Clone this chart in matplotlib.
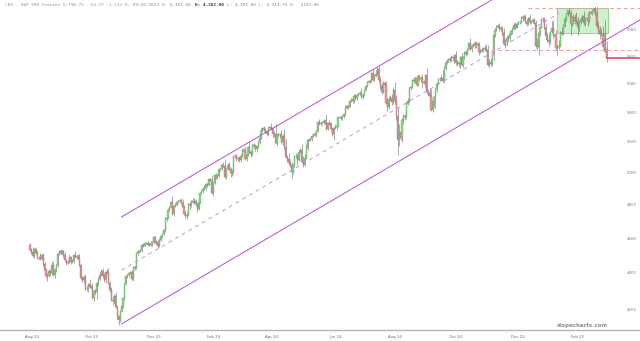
import matplotlib
matplotlib.use("Agg")
import matplotlib.pyplot as plt
from matplotlib.patches import Rectangle

# ---------------- data (daily /ES bars, Aug 2 2023 - Mar 4 2025) ----------------
closes = [
    4534, 4522, 4498, 4538, 4518, 4487, 4486, 4482, 4506, 4454, 4420, 4386, 4384, 4414, 4401, 4450, 4389, 4418, 4445, 4509, 4525, 4518,
    4525, 4505, 4473, 4458, 4464, 4492, 4465, 4470, 4507, 4495, 4497, 4487, 4445, 4373, 4362, 4379, 4315, 4314, 4339, 4327,
    4326, 4267, 4300, 4295, 4344, 4371, 4393, 4411, 4383, 4361, 4406, 4405, 4346, 4310, 4255, 4247, 4277, 4215, 4166, 4145, 4194, 4221,
    4263, 4343, 4383, 4390, 4402, 4406, 4370, 4438, 4433, 4516, 4522, 4528, 4533, 4565, 4556, 4573, 4575, 4565, 4568, 4564, 4580,
    4607, 4580, 4577, 4558, 4593, 4612, 4629, 4649, 4713, 4724, 4769, 4789, 4817, 4746, 4794, 4801, 4820, 4827, 4828, 4815,
    4787, 4748, 4732, 4740, 4806, 4798, 4824, 4820, 4824, 4804, 4777, 4817, 4877, 4886, 4899, 4903, 4928, 4925, 4960, 4957, 4877,
    4936, 4989, 4972, 4982, 5023, 5025, 5054, 5048, 4978, 5026, 5053, 5029, 4998, 5003, 5107, 5109, 5088, 5095, 5086, 5112,
    5151, 5144, 5091, 5116, 5167, 5134, 5125, 5182, 5172, 5156, 5172, 5203, 5231, 5277, 5293, 5285, 5268, 5253, 5297, 5303,
    5291, 5252, 5258, 5193, 5250, 5247, 5253, 5204, 5242, 5166, 5103, 5092, 5063, 5051, 5007, 5049, 5108, 5109, 5085, 5137, 5151, 5071,
    5052, 5098, 5161, 5213, 5218, 5219, 5244, 5253, 5249, 5275, 5335, 5324, 5329, 5333, 5345, 5331, 5291, 5328, 5327, 5287, 5255, 5296,
    5301, 5308, 5370, 5368, 5362, 5375, 5388, 5433, 5444, 5442, 5482, 5495, 5478, 5519, 5501, 5522, 5530, 5534, 5511,
    5525, 5559, 5586, 5615, 5619, 5624, 5679, 5630, 5660, 5675, 5710, 5631, 5586, 5547, 5605, 5595, 5467, 5438, 5498, 5500, 5473, 5558,
    5480, 5380, 5218, 5271, 5230, 5349, 5374, 5372, 5462, 5482, 5569, 5580, 5632, 5620, 5643, 5593, 5657, 5636, 5645, 5611, 5610, 5666,
    5543, 5534, 5517, 5421, 5482, 5506, 5563, 5604, 5634, 5639, 5640, 5622, 5717, 5755, 5769, 5782, 5771, 5794, 5786, 5809,
    5756, 5755, 5745, 5796, 5740, 5794, 5835, 5822, 5857, 5899, 5855, 5882, 5880, 5903, 5890, 5887, 5833, 5844, 5843, 5856, 5865, 5845, 5737,
    5760, 5742, 5812, 5958, 6002, 6024, 6028, 6011, 6010, 5975, 5895, 5917, 5940, 5939, 5971, 5991, 6007, 6040, 6018, 6049,
    6062, 6064, 6099, 6088, 6102, 6062, 6043, 6094, 6059, 6058, 6079, 6054, 5876, 5870, 5979, 6021, 6086, 6082, 6016, 5951, 5926,
    5912, 5985, 6017, 5950, 5958, 5866, 5873, 5880, 5986, 5972, 6032, 6082, 6119, 6151, 6133, 6042, 6096, 6068, 6099, 6067,
    6020, 6062, 6086, 6107, 6050, 6088, 6090, 6072, 6136, 6134, 6149, 6164, 6136, 6032, 6000, 5972, 5971, 5877, 5970,
    5855.5, 5790.75,
]
first_open = 4560
wick_up = [
    14, 8, 30, 6, 12, 15, 9, 28, 7, 10, 8, 12, 15, 9, 6, 14, 20, 11, 8, 5, 9, 12,
    8, 9, 14, 6, 10, 11, 7, 12, 6, 18, 9, 14, 26, 9, 15, 12, 20, 14, 10, 28,
    10, 22, 6, 12, 8, 9, 15, 12, 18, 22, 10, 20, 24, 14, 16, 20, 8, 18, 10, 6, 8, 9,
    6, 5, 8, 9, 6, 10, 14, 5, 10, 8, 12, 7, 6, 5, 9, 6, 4, 8, 10, 15, 7,
    6, 10, 12, 14, 8, 10, 6, 8, 12, 10, 14, 8, 10, 42, 6, 12, 5, 7, 10, 18,
    20, 12, 18, 16, 6, 12, 8, 22, 20, 14, 10, 8, 6, 9, 12, 20, 10, 12, 8, 10, 28,
    10, 8, 14, 12, 8, 10, 6, 20, 40, 8, 10, 16, 12, 20, 10, 14, 12, 10, 14, 8,
    8, 10, 26, 24, 10, 40, 14, 10, 14, 18, 10, 8, 6, 20, 10, 14, 12, 16, 10, 8,
    26, 12, 16, 62, 10, 14, 10, 30, 12, 48, 56, 14, 40, 26, 18, 8, 10, 18, 12, 16, 14, 40,
    40, 24, 26, 8, 12, 8, 6, 8, 14, 10, 6, 18, 6, 12, 8, 14, 60, 10, 20, 12, 18, 8,
    20, 12, 6, 10, 12, 10, 8, 18, 12, 10, 8, 6, 24, 12, 14, 6, 10, 16, 36,
    6, 8, 6, 8, 10, 8, 6, 30, 12, 24, 10, 20, 30, 20, 14, 18, 30, 34, 20, 22, 30, 24,
    60, 40, 60, 50, 80, 12, 14, 18, 10, 20, 10, 12, 6, 22, 10, 18, 6, 14, 12, 30, 20, 8,
    50, 20, 40, 50, 10, 12, 10, 8, 6, 10, 26, 60, 10, 12, 10, 8, 14, 20, 12, 6,
    30, 20, 12, 8, 30, 10, 6, 12, 8, 6, 40, 10, 20, 10, 12, 18, 20, 14, 28, 16, 20, 30, 40,
    20, 30, 10, 20, 12, 14, 20, 24, 16, 18, 40, 14, 20, 18, 14, 10, 12, 10, 20, 8,
    10, 8, 6, 16, 10, 20, 20, 8, 26, 16, 10, 10, 26, 60, 30, 8, 4, 10, 20, 30, 30,
    50, 10, 50, 60, 20, 40, 20, 40, 8, 40, 14, 14, 10, 6, 16, 20, 10, 30, 20, 40,
    30, 10, 10, 8, 40, 10, 10, 40, 8, 14, 10, 8, 20, 40, 40, 30, 40, 60, 10,
    110, 60,
]
wick_dn = [
    6, 12, 5, 10, 8, 7, 11, 6, 9, 12, 14, 10, 25, 6, 13, 8, 5, 14, 9, 7, 6, 11,
    7, 10, 5, 12, 6, 8, 11, 9, 10, 7, 12, 8, 6, 10, 9, 14, 5, 12, 15, 6,
    14, 8, 18, 10, 34, 12, 6, 5, 10, 8, 12, 9, 6, 12, 8, 20, 12, 6, 14, 23, 10, 7,
    12, 8, 10, 7, 9, 6, 5, 10, 12, 6, 9, 8, 7, 10, 6, 8, 5, 6, 9, 10, 8,
    10, 8, 14, 12, 7, 6, 9, 8, 10, 12, 9, 7, 8, 6, 10, 8, 6, 5, 7, 6,
    12, 10, 8, 14, 8, 20, 10, 8, 14, 10, 22, 9, 8, 6, 10, 8, 9, 10, 7, 6, 8,
    20, 8, 12, 10, 9, 8, 6, 10, 10, 18, 8, 10, 24, 15, 6, 8, 10, 9, 12, 16,
    10, 12, 8, 12, 8, 6, 20, 12, 10, 14, 18, 10, 14, 12, 8, 10, 6, 8, 12, 9,
    8, 20, 14, 6, 20, 12, 18, 14, 24, 10, 6, 20, 10, 14, 38, 12, 8, 12, 34, 10, 8, 6,
    16, 10, 8, 10, 6, 12, 10, 6, 10, 12, 8, 10, 14, 6, 10, 8, 6, 12, 10, 14, 12, 40,
    8, 20, 8, 8, 14, 10, 12, 10, 8, 14, 6, 10, 8, 10, 16, 12, 8, 6, 6,
    14, 8, 6, 8, 6, 10, 6, 8, 10, 10, 12, 14, 18, 20, 10, 16, 8, 30, 12, 16, 20, 12,
    20, 30, 100, 40, 12, 30, 30, 20, 14, 10, 12, 10, 10, 12, 14, 8, 10, 12, 20, 40, 10, 30,
    10, 20, 20, 10, 20, 40, 80, 20, 12, 12, 14, 10, 14, 18, 10, 8, 12, 8, 20, 30,
    20, 24, 20, 30, 10, 20, 10, 20, 12, 10, 8, 24, 8, 20, 24, 18, 20, 10, 8, 10, 12, 14, 8,
    20, 10, 10, 40, 10, 14, 10, 20, 20, 10, 10, 30, 40, 30, 20, 8, 20, 10, 14, 6,
    10, 14, 10, 20, 14, 12, 14, 8, 10, 14, 8, 10, 12, 24, 60, 24, 6, 20, 12, 30, 16,
    30, 20, 12, 10, 50, 20, 60, 20, 10, 14, 10, 10, 10, 12, 10, 80, 10, 20, 20, 20,
    60, 30, 20, 20, 10, 20, 20, 40, 20, 12, 20, 20, 30, 20, 30, 40, 20, 20, 40,
    20, 30,
]

x_labels = ["Aug 23", "Oct 23", "Dec 23", "Feb 24", "Apr 24", "Jun 24",
            "Aug 24", "Oct 24", "Dec 24", "Feb 25"]
x_label_bars = [1, 42, 85, 126, 166, 210, 251, 293, 336, 377]
y_ticks = [4200, 4400, 4600, 4800, 5000, 5200, 5400, 5600, 5800, 6000]

# trend channel (bar index, price)
channel_lower = [(63, 4126), (420, 6078)]
channel_upper = [(63, 4728), (420, 6965)]
channel_mid = [(63, 4418), (364, 6128)]
resistance_top = (343, 6170)
support_mid = (317, 5849)
last_price = 5790.75
box = (363, 398, 5980, 6170)

header = [
    ("/ES - S&P 500 Futures 5,790.75 ", "#8a8a8a", "normal"),
    ("-64.75 -1.11% ", "#e07a7a", "normal"),
    ("D: 09/26/2023 O: 4,381.00 ", "#8a8a8a", "normal"),
    ("H: 4,382.00 ", "#333333", "bold"),
    ("L: 4,305.00 C: 4,314.75 V:  4156.00", "#8a8a8a", "normal"),
]

# ---------------- figure ----------------
W, H = 640, 341
XL = (-20.65, 419.8)
fig = plt.figure(figsize=(W / 100, H / 100), dpi=100)
fig.patch.set_facecolor("white")
ax = fig.add_axes([0, (H - 330) / H, 1, 330 / H])
ax.set_yscale("log")
ax.set_ylim(4094, 6233)
ax.set_xlim(*XL)
for s in ax.spines.values():
    s.set_visible(False)
ax.spines["bottom"].set_visible(True)
ax.spines["bottom"].set_color("#b4b4b4")
ax.spines["bottom"].set_linewidth(1.0)
ax.set_xticks([])
ax.set_yticks([])
ax.yaxis.set_minor_locator(matplotlib.ticker.NullLocator())

n = min(len(closes), len(wick_up), len(wick_dn))
xs = list(range(n))
opens = [first_open] + closes[:n - 1]
highs = [max(o, c) + u for o, c, u in zip(opens, closes[:n], wick_up[:n])]
lows = [min(o, c) - d for o, c, d in zip(opens, closes[:n], wick_dn[:n])]

# green consolidation box
bx0, bx1, by0, by1 = box
ax.add_patch(Rectangle((bx0, by0), bx1 - bx0, by1 - by0, facecolor="#cdf0cd",
                       edgecolor="#86d086", linewidth=0.6, zorder=1))

# wicks
ax.vlines(xs, lows, highs, color="#606060", linewidth=0.38, zorder=2)
# bodies
up_x = [i for i in xs if closes[i] >= opens[i]]
dn_x = [i for i in xs if closes[i] < opens[i]]
ax.bar(up_x, [max(closes[i] - opens[i], 2) for i in up_x], bottom=[opens[i] for i in up_x],
       width=0.78, color="#8ade8a", edgecolor="#4f9f4f", linewidth=0.25, zorder=3)
ax.bar(dn_x, [max(opens[i] - closes[i], 2) for i in dn_x], bottom=[closes[i] for i in dn_x],
       width=0.78, color="#ee9c9c", edgecolor="#a85858", linewidth=0.25, zorder=3)

# channel
purple = "#b458de"
ax.plot(*zip(*channel_lower), color=purple, linewidth=0.75, zorder=4)
ax.plot(*zip(*channel_upper), color=purple, linewidth=0.75, zorder=4)
ax.plot(*zip(*channel_mid), color="#bf94dc", linewidth=0.7, linestyle=(0, (4, 4)), zorder=4)

# horizontal levels
ax.plot([resistance_top[0], XL[1]], [resistance_top[1]] * 2, color="#e8a0a0",
        linewidth=0.7, linestyle=(0, (4, 3)), zorder=4)
ax.plot([support_mid[0], XL[1]], [support_mid[1]] * 2, color="#e8a0a0",
        linewidth=0.7, linestyle=(0, (4, 3)), zorder=4)
ax.plot([n - 1, XL[1]], [last_price] * 2, color="#e05050", linewidth=1.2, zorder=4)

# price labels on right
ytr = ax.get_yaxis_transform()
for v in y_ticks:
    ax.text(0.987, v, f"{v}", transform=ytr, ha="center", va="center",
            fontsize=2.8, color="#7a7a96", zorder=6)

# date labels
xtr = ax.get_xaxis_transform()
for lab, b in zip(x_labels, x_label_bars):
    ax.text(b, -0.015, lab, transform=xtr, ha="center", va="top",
            fontsize=2.8, color="#5a6a9a", clip_on=False)

# watermark
ax.text(608 / W, (H - 325) / H, "slopecharts.com", transform=fig.transFigure,
        ha="right", va="center", fontsize=4.0, color="#8c8c8c", fontweight="bold")

# header
fs = 3.2
char_w = fs * 100 / 72 * 0.6021
pos = 5
for txt, col, wt in header:
    fig.text(pos / W, 1 - 4.5 / H, txt, ha="left", va="center", fontsize=fs,
             family="DejaVu Sans Mono", color=col, fontweight=wt)
    pos += len(txt) * char_w

fig.savefig("out.png", dpi=100, facecolor="white")
